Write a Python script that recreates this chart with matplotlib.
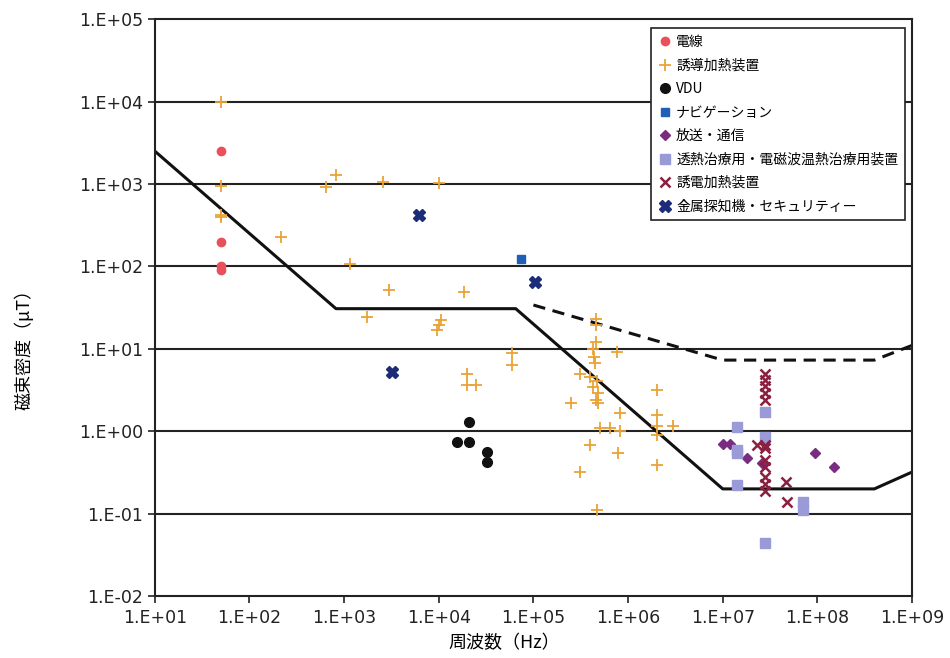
import numpy as np
import matplotlib.pyplot as plt
from matplotlib.ticker import FixedLocator, FuncFormatter, NullLocator

plt.rcParams['font.family'] = ['DejaVu Sans', 'Noto Sans CJK JP']

# reference levels (Hz, uT)
limit_f = [10, 820, 6.5e4, 1e7, 4e8, 1e9]
limit_b = [2500, 30.7, 30.7, 0.2, 0.2, 0.32]
limit2_f = [1e5, 1e7, 4e8, 1e9]
limit2_b = [34, 7.3, 7.3, 11]

# 電線
line_f = [50, 50, 50, 50]
line_b = [2500, 200, 100, 90]

# 誘導加熱装置
ih_f = [50, 50, 50, 50, 830, 650, 2570, 1e4, 214, 1150, 3000, 1.85e4, 1740,
        1e4, 9.5e3, 1.05e4, 5.9e4, 5.9e4, 2.0e4, 2.0e4, 2.5e4,
        4.6e5, 4.6e5, 4.6e5, 4.3e5, 7.6e5, 4.4e5, 4.5e5, 3.1e5, 4.0e5, 4.7e5,
        4.3e5, 4.8e5, 4.6e5, 4.8e5, 2.5e5, 8.3e5, 5.0e5, 6.4e5, 8.3e5, 4.0e5,
        7.8e5, 3.1e5, 4.7e5, 2.0e6, 2.0e6, 2.0e6, 3.0e6, 2.0e6, 2.0e6]
ih_b = [1e4, 950, 420, 400, 1290, 910, 1070, 1020, 225, 106, 52, 49, 24,
        19.5, 17, 22.5, 8.9, 6.3, 5.0, 3.6, 3.6,
        23, 19.5, 12, 10, 9.1, 7.9, 6.7, 5.0, 4.5, 4.1,
        3.4, 2.9, 2.4, 2.2, 2.2, 1.66, 1.1, 1.1, 1.0, 0.68,
        0.54, 0.32, 0.11, 3.2, 1.56, 1.17, 1.17, 0.89, 0.39]

# VDU
vdu_f = [2.1e4, 1.55e4, 2.1e4, 3.2e4, 3.2e4]
vdu_b = [1.28, 0.74, 0.74, 0.56, 0.42]

# ナビゲーション
nav_f = [7.4e4]
nav_b = [122]

# 放送・通信
bc_f = [1e7, 1.2e7, 1.8e7, 2.6e7, 9.5e7, 1.5e8]
bc_b = [0.7, 0.7, 0.47, 0.41, 0.54, 0.37]

# 透熱治療用・電磁波温熱治療用装置
dia_f = [2.8e7, 1.4e7, 1.4e7, 1.4e7, 1.4e7, 2.8e7, 2.8e7, 7.1e7, 7.1e7]
dia_b = [1.7, 1.12, 0.59, 0.54, 0.22, 0.85, 0.044, 0.14, 0.11]

# 誘電加熱装置
dh_f = [2.8e7, 2.8e7, 2.8e7, 2.8e7, 2.8e7, 2.8e7, 2.8e7, 2.8e7, 2.8e7,
        2.8e7, 2.8e7, 2.8e7, 2.3e7, 4.7e7, 4.8e7]
dh_b = [5.0, 4.2, 3.5, 2.9, 2.4, 0.68, 0.63, 0.45, 0.37, 0.28, 0.23, 0.19,
        0.68, 0.24, 0.14]

# 金属探知機・セキュリティー
md_f = [6.2e3, 3.2e3, 1.05e5]
md_b = [420, 5.2, 64]

fig = plt.figure(figsize=(9.5, 6.58), dpi=100)
ax = fig.add_axes([0.163, 0.094, 0.797, 0.877])
ax.set_xscale('log')
ax.set_yscale('log')
ax.set_xlim(10, 1e9)
ax.set_ylim(1e-2, 1e5)

for v in 10.0 ** np.arange(-1, 5):
    ax.axhline(v, color='#222222', lw=1.5, zorder=1)

ax.plot(limit_f, limit_b, color='#111111', lw=2.2, zorder=2)
ax.plot(limit2_f, limit2_b, color='#111111', lw=2.2, dashes=(4, 2.5), zorder=2)

ax.plot(line_f, line_b, 'o', color='#e8505b', ms=6, ls='none', label='電線', zorder=3)
ax.plot(ih_f, ih_b, '+', color='#e8a235', ms=8, mew=1.3, ls='none', label='誘導加熱装置', zorder=3)
ax.plot(vdu_f, vdu_b, 'o', color='#111111', ms=7, ls='none', label='VDU', zorder=3)
ax.plot(nav_f, nav_b, 's', color='#1f5fb8', ms=6, ls='none', label='ナビゲーション', zorder=3)
ax.plot(bc_f, bc_b, 'D', color='#7a2d80', ms=5.5, ls='none', label='放送・通信', zorder=3)
ax.plot(dia_f, dia_b, 's', color='#9a9ad8', ms=6.5, ls='none', label='透熱治療用・電磁波温熱治療用装置', zorder=3)
ax.plot(dh_f, dh_b, 'x', color='#8b1f40', ms=6.5, mew=1.8, ls='none', label='誘電加熱装置', zorder=4)
ax.plot(md_f, md_b, 'X', color='#1c2c78', ms=8, ls='none', label='金属探知機・セキュリティー', zorder=3)

fmt = FuncFormatter(lambda v, p: "1.E%+03d" % int(round(np.log10(v))))
ax.xaxis.set_major_locator(FixedLocator(10.0 ** np.arange(1, 10)))
ax.yaxis.set_major_locator(FixedLocator(10.0 ** np.arange(-2, 6)))
ax.xaxis.set_minor_locator(NullLocator())
ax.yaxis.set_minor_locator(NullLocator())
ax.xaxis.set_major_formatter(fmt)
ax.yaxis.set_major_formatter(fmt)
ax.tick_params(direction='out', length=5, width=1.2, labelsize=12.5, colors='#222222')
ax.tick_params(axis='x', pad=4)
for s in ax.spines.values():
    s.set_linewidth(1.5)
    s.set_color('#222222')

ax.set_xlabel('周波数（Hz）', family=['Noto Sans CJK JP'], fontsize=13)
ax.set_ylabel('磁束密度（μT）', family=['Noto Sans CJK JP', 'DejaVu Sans'], fontsize=13)
ax.xaxis.set_label_coords(0.462, -0.066)
ax.yaxis.set_label_coords(-0.16, 0.435)

leg = ax.legend(loc='upper right', bbox_to_anchor=(0.991, 0.984),
                prop={'family': ['Noto Sans CJK JP', 'DejaVu Sans'], 'size': 10},
                frameon=True, fancybox=False, edgecolor='#222222', framealpha=1,
                labelspacing=0.68, handletextpad=0.3, handlelength=1.0,
                borderpad=0.5, borderaxespad=0)
leg.get_frame().set_linewidth(1.2)
leg.set_zorder(5)

fig.savefig('out.png', dpi=100)
